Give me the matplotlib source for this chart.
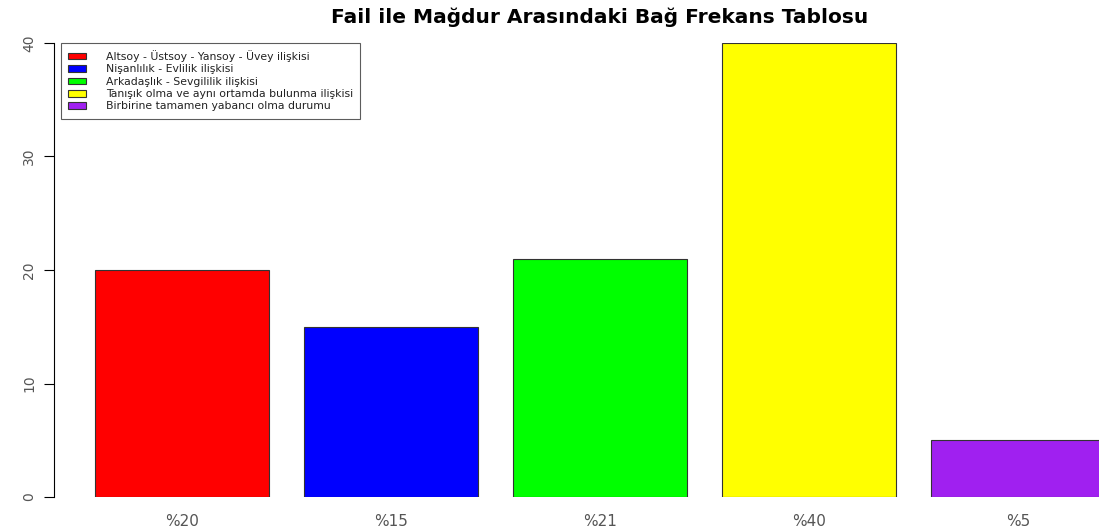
import matplotlib.pyplot as plt
from matplotlib.patches import Patch

plt.rcParams['font.family'] = ['DejaVu Sans']

# veriler
degerler = [20, 15, 21, 40, 5]
etiketler = ['%20', '%15', '%21', '%40', '%5']
renkler = ['#ff0000', '#0000ff', '#00ff00', '#ffff00', '#a020f0']
aciklamalar = ['Altsoy - Üstsoy - Yansoy - Üvey ilişkisi',
               'Nişanlılık - Evlilik ilişkisi',
               'Arkadaşlık - Sevgililik ilişkisi',
               'Tanışık olma ve aynı ortamda bulunma ilişkisi',
               'Birbirine tamamen yabancı olma durumu']

W, H = 1099, 530
fig = plt.figure(figsize=(W / 100, H / 100), dpi=100)

# R barplot duzeni: genislik 1, bosluk 0.2
birim = 174.2
x0 = 60
sol = 54
sag = x0 + 6.0 * birim
ax = fig.add_axes([sol / W, (H - 497) / H, (sag - sol) / W, (497 - 43) / H])

konum = [0.2 + i * 1.2 + 0.5 for i in range(len(degerler))]
ax.bar(konum, degerler, width=1.0, color=renkler, edgecolor='#333333', linewidth=0.8)
ax.set_xlim((sol - x0) / birim, 6.0)
ax.set_ylim(0, 40)

for s in ['top', 'right', 'bottom']:
    ax.spines[s].set_visible(False)
ax.spines['left'].set_bounds(0, 40)

ax.set_yticks([0, 10, 20, 30, 40])
ax.set_yticklabels(['0', '10', '20', '30', '40'], rotation=90, va='center',
                   fontsize=10, color='#555555')
ax.tick_params(axis='y', length=7, width=0.8, pad=6)
ax.set_xticks(konum)
ax.set_xticklabels(etiketler, fontsize=11, color='#555555')
ax.tick_params(axis='x', length=0, pad=12)

fig.text(0.546, 1 - 17 / H, 'Fail ile Mağdur Arasındaki Bağ Frekans Tablosu',
         ha='center', va='center', fontsize=14.5, fontweight='bold')

handles = [Patch(facecolor=c, edgecolor='#333333', linewidth=0.8) for c in renkler]
leg = fig.legend(handles, aciklamalar, loc='upper left',
                 bbox_to_anchor=(61 / W, 1 - 43 / H), fontsize=7.8,
                 frameon=True, fancybox=False, handlelength=1.7, handleheight=0.55,
                 labelspacing=0.22, borderpad=0.65, handletextpad=1.8,
                 borderaxespad=0)
leg.get_frame().set_edgecolor('#333333')
leg.get_frame().set_linewidth(0.8)
for t in leg.get_texts():
    t.set_color('#222222')

fig.savefig('out.png', dpi=100)
